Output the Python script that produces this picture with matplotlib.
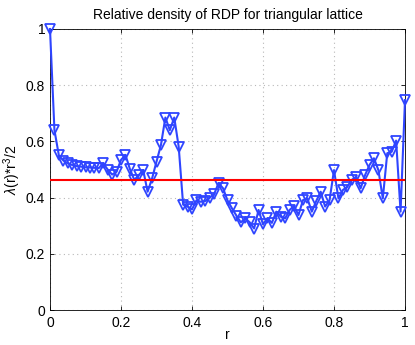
import numpy as np
import matplotlib
matplotlib.use("Agg")
import matplotlib.pyplot as plt

plt.rcParams["font.family"] = ["Liberation Sans", "DejaVu Sans"]
plt.rcParams["mathtext.fontset"] = "custom"
plt.rcParams["mathtext.rm"] = "Liberation Sans"
plt.rcParams["mathtext.it"] = "Liberation Sans:italic"

# radial distance grid and measured relative density
r = np.linspace(0, 1, 81)
density = [
    1.00, 0.64, 0.55, 0.532, 0.522, 0.516, 0.512, 0.510, 0.508, 0.507,
    0.506, 0.505, 0.522, 0.500, 0.482, 0.492, 0.534, 0.552, 0.502, 0.463,
    0.480, 0.498, 0.421, 0.468, 0.528, 0.587, 0.685, 0.640, 0.685, 0.581,
    0.375, 0.368, 0.358, 0.390, 0.385, 0.388, 0.400, 0.413, 0.452, 0.433,
    0.390, 0.362, 0.336, 0.312, 0.326, 0.312, 0.290, 0.356, 0.305, 0.326,
    0.310, 0.350, 0.332, 0.326, 0.356, 0.370, 0.338, 0.391, 0.397, 0.350,
    0.388, 0.421, 0.368, 0.391, 0.498, 0.397, 0.427, 0.439, 0.463, 0.474,
    0.433, 0.480, 0.516, 0.540, 0.498, 0.397, 0.558, 0.563, 0.603, 0.350,
    0.747,
]
mean_level = 0.4617

fig = plt.figure(figsize=(4.15, 3.45), dpi=100)
ax = fig.add_axes([50 / 415, 35 / 345, 355 / 415, 281 / 345])

ax.plot(r, density, color="#2f45ff", linewidth=1.5, marker="v",
        markersize=6.5, markerfacecolor="none", markeredgewidth=1.3,
        clip_on=False, zorder=3)
ax.plot([0, 1], [mean_level, mean_level], color="#ff0000", linewidth=1.5,
        zorder=4)

ax.set_xlim(0, 1)
ax.set_ylim(0, 1)
ticks = [0, 0.2, 0.4, 0.6, 0.8, 1]
labels = ["0", "0.2", "0.4", "0.6", "0.8", "1"]
ax.set_xticks(ticks)
ax.set_xticklabels(labels)
ax.set_yticks(ticks)
ax.set_yticklabels(labels)
ax.tick_params(direction="in", top=True, right=True, labelsize=10,
               length=3, width=0.6)
ax.tick_params(axis="x", pad=4)
ax.grid(True, linestyle=(0, (1, 3)), color="#b8b8b8", linewidth=0.8)
for s in ax.spines.values():
    s.set_linewidth(0.6)

ax.set_title("Relative density of RDP for triangular lattice", fontsize=10,
             pad=7)
ax.set_xlabel("r", fontsize=10, labelpad=-1)
ax.set_ylabel(r"$\lambda$(r)*r$^3$/2", fontsize=10, labelpad=2)

fig.savefig("out.png", dpi=100)
